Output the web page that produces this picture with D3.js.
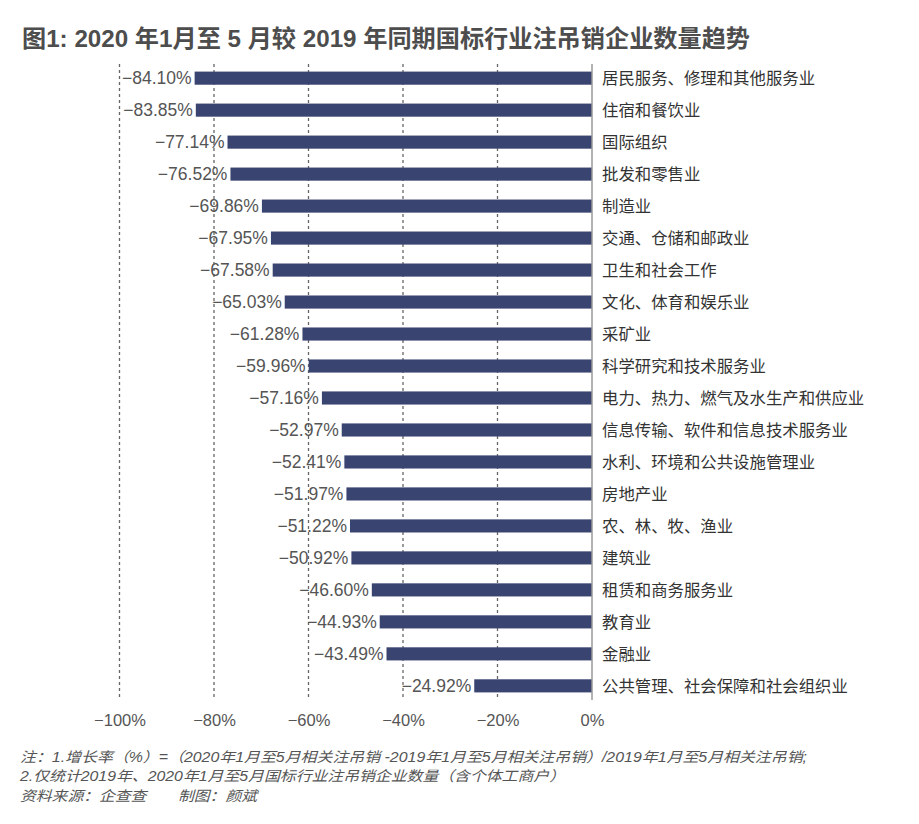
<!DOCTYPE html>
<html><head><meta charset="utf-8">
<script src="https://cdn.jsdelivr.net/npm/d3@7"></script>
<style>body{margin:0;background:#fff;} svg{display:block;}</style>
</head><body>
<script>
const categories = ["居民服务、修理和其他服务业","住宿和餐饮业","国际组织","批发和零售业","制造业","交通、仓储和邮政业","卫生和社会工作","文化、体育和娱乐业","采矿业","科学研究和技术服务业","电力、热力、燃气及水生产和供应业","信息传输、软件和信息技术服务业","水利、环境和公共设施管理业","房地产业","农、林、牧、渔业","建筑业","租赁和商务服务业","教育业","金融业","公共管理、社会保障和社会组织业"];
const values = [-84.10,-83.85,-77.14,-76.52,-69.86,-67.95,-67.58,-65.03,-61.28,-59.96,-57.16,-52.97,-52.41,-51.97,-51.22,-50.92,-46.60,-44.93,-43.49,-24.92];
const ticks = [-100,-80,-60,-40,-20,0];
const title = "图1: 2020 年1月至 5 月较 2019 年同期国标行业注吊销企业数量趋势";
const notes = ["注：1.增长率（%）=（2020年1月至5月相关注吊销 -2019年1月至5月相关注吊销）/2019年1月至5月相关注吊销;","2.仅统计2019年、2020年1月至5月国标行业注吊销企业数量（含个体工商户）","资料来源：企查查　　制图：颜斌"];
const noteLens = [787,545,237];

const W=919,H=824;
const svg=d3.select("body").append("svg").attr("width",W).attr("height",H);
const font="'Liberation Sans','Noto Sans CJK SC',sans-serif";
const x=d3.scaleLinear().domain([-100,0]).range([119.5,592]);
const y=d3.scaleBand().domain(categories).range([62,702]).paddingInner(0.59).paddingOuter(0.3);

svg.append("text").attr("x",22).attr("y",47).text(title)
  .attr("font-family",font).attr("font-weight","bold").attr("font-size",24).attr("fill","#4d4d4d")
  .attr("textLength",728).attr("lengthAdjust","spacingAndGlyphs");

// grid
svg.append("g").selectAll("line").data(ticks.filter(d=>d!==0)).join("line")
  .attr("x1",d=>x(d)).attr("x2",d=>x(d)).attr("y1",64).attr("y2",700)
  .attr("stroke","#666").attr("stroke-width",1.3).attr("stroke-dasharray","3,3");

// bars
svg.append("g").selectAll("rect").data(values).join("rect")
  .attr("x",d=>x(d)).attr("width",d=>x(0)-x(d))
  .attr("y",(d,i)=>y(categories[i])).attr("height",y.bandwidth())
  .attr("fill","#3a4470");

// zero axis
svg.append("line").attr("x1",x(0)).attr("x2",x(0)).attr("y1",64).attr("y2",700)
  .attr("stroke","#999").attr("stroke-width",1.5);

// value labels
svg.append("g").selectAll("text").data(values).join("text")
  .attr("x",d=>x(d)-3).attr("y",(d,i)=>y(categories[i])+y.bandwidth()/2).attr("dy","0.36em")
  .attr("text-anchor","end").attr("font-family",font).attr("font-size",17.5).attr("fill","#555")
  .text(d=>"−"+Math.abs(d).toFixed(2)+"%");

// category labels
svg.append("g").selectAll("text").data(categories).join("text")
  .attr("x",x(0)+10).attr("y",d=>y(d)+y.bandwidth()/2).attr("dy","0.36em")
  .attr("font-family",font).attr("font-size",16.4).attr("fill","#333").text(d=>d);

// x axis labels
const ax=svg.append("g").attr("transform","translate(0,720)").call(d3.axisBottom(x).tickValues(ticks).tickSize(0).tickFormat(d=>(d<0?"−":"")+Math.abs(d)+"%"));
ax.select(".domain").remove();
ax.selectAll("text").attr("font-family",font).attr("font-size",16.5).attr("fill","#555").attr("dy","0.36em").attr("y",0);

// notes
svg.append("g").selectAll("text").data(notes).join("text")
  .attr("x",20).attr("y",(d,i)=>762+i*19.3).text(d=>d)
  .attr("textLength",(d,i)=>noteLens[i]).attr("lengthAdjust","spacingAndGlyphs")
  .attr("font-family",font).attr("font-size",14).attr("font-style","italic").attr("fill","#555");
</script>
</body></html>
